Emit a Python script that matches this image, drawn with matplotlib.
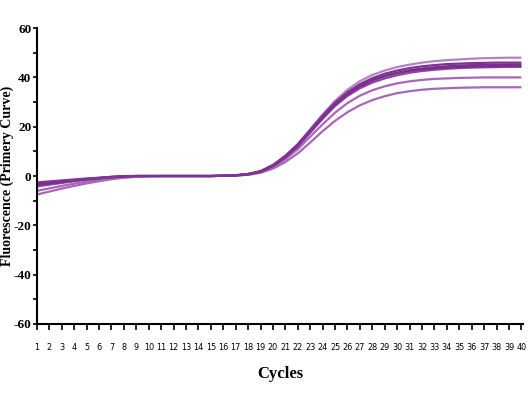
import numpy as np
import matplotlib
matplotlib.use('Agg')
import matplotlib.pyplot as plt
from matplotlib.ticker import MultipleLocator

plt.rcParams['axes.unicode_minus'] = False

cycles = list(range(1, 41))

# fluorescence per cycle, one list per sample
curve_a = [-3.0, -2.6, -2.1, -1.6, -1.2, -0.8, -0.4, -0.1, 0.0, 0.0,
           0.0, 0.0, 0.0, 0.0, 0.0, 0.1, 0.3, 0.8,
           2.0, 4.5, 8.3, 13.0, 19.0, 25.0, 30.5, 35.0, 38.5, 41.0, 42.8, 44.2,
           45.2, 46.0, 46.6, 47.0, 47.3, 47.6, 47.8, 47.9, 48.0, 48.0]
curve_b = [-2.6, -2.2, -1.8, -1.4, -1.0, -0.7, -0.3, 0.0, 0.0, 0.0,
           0.0, 0.0, 0.0, 0.0, 0.0, 0.1, 0.3, 0.8,
           1.9, 4.3, 8.0, 12.6, 18.5, 24.4, 29.8, 34.0, 37.3, 39.7, 41.5, 42.8,
           43.8, 44.5, 45.0, 45.4, 45.6, 45.8, 45.9, 46.0, 46.0, 46.0]
curve_c = [-3.5, -3.0, -2.4, -1.8, -1.3, -0.8, -0.4, -0.1, 0.0, 0.0,
           0.0, 0.0, 0.0, 0.0, 0.0, 0.1, 0.3, 0.7,
           1.8, 4.1, 7.7, 12.2, 18.0, 23.8, 29.0, 33.2, 36.4, 38.8, 40.6, 41.9,
           42.9, 43.6, 44.1, 44.5, 44.8, 45.0, 45.1, 45.2, 45.3, 45.3]
curve_d = [-4.2, -3.5, -2.8, -2.1, -1.5, -1.0, -0.5, -0.2, 0.0, 0.0,
           0.0, 0.0, 0.0, 0.0, 0.0, 0.1, 0.2, 0.7,
           1.7, 4.0, 7.5, 12.0, 17.6, 23.2, 28.4, 32.5, 35.6, 37.9, 39.6, 40.9,
           41.9, 42.6, 43.1, 43.5, 43.8, 44.0, 44.1, 44.2, 44.3, 44.3]
curve_e = [-3.2, -2.8, -2.3, -1.8, -1.3, -0.9, -0.5, -0.2, 0.0, 0.0,
           0.0, 0.0, 0.0, 0.0, 0.0, 0.1, 0.3, 0.8,
           1.9, 4.4, 8.1, 12.8, 18.6, 24.4, 29.6, 33.6, 36.6, 38.9, 40.6, 41.8,
           42.7, 43.3, 43.7, 44.0, 44.2, 44.4, 44.5, 44.6, 44.6, 44.6]
curve_f = [-6.0, -5.0, -4.0, -3.1, -2.3, -1.6, -1.0, -0.5, -0.2, 0.0,
           0.0, 0.0, 0.0, 0.0, 0.0, 0.1, 0.2, 0.6,
           1.5, 3.6, 6.8, 10.9, 16.0, 21.0, 25.7, 29.6, 32.6, 34.8, 36.4, 37.6,
           38.4, 39.0, 39.4, 39.6, 39.8, 39.9, 40.0, 40.0, 40.0, 40.0]
curve_g = [-7.5, -6.3, -5.1, -4.0, -3.0, -2.1, -1.3, -0.7, -0.3, -0.1,
           0.0, 0.0, 0.0, 0.0, 0.0, 0.1, 0.2, 0.5,
           1.3, 3.0, 5.7, 9.2, 13.6, 18.2, 22.4, 25.9, 28.7, 30.8, 32.4, 33.6,
           34.4, 35.0, 35.4, 35.6, 35.8, 35.9, 36.0, 36.0, 36.0, 36.0]

curves = [curve_g, curve_f, curve_a, curve_d, curve_e, curve_c, curve_b]
colors = ['#A767B8', '#A767B8', '#B681C6', '#8E44A2', '#7A2E8E', '#7A2E8E', '#7F3393']

fig = plt.figure(figsize=(5.28, 3.96), dpi=100)
ax = fig.add_axes([0.070, 0.182, 0.921, 0.747])

for ys, c in zip(curves, colors):
    ax.plot(cycles, ys, color=c, lw=1.6, solid_capstyle='butt')

ax.set_xlim(1, 40.15)
ax.set_ylim(-60, 60)
ax.spines['top'].set_visible(False)
ax.spines['right'].set_visible(False)
ax.spines['left'].set_linewidth(1.5)
ax.spines['bottom'].set_linewidth(1.5)

ax.set_xticks(cycles)
ax.set_xticklabels([str(c) for c in cycles], family='DejaVu Sans',
                   fontstretch='condensed', fontsize=6.5)
ax.tick_params(axis='x', direction='out', length=4, width=1.2, pad=10)

ax.yaxis.set_major_locator(MultipleLocator(20))
ax.yaxis.set_minor_locator(MultipleLocator(10))
ax.tick_params(axis='y', which='major', direction='out', length=3, width=1.2, pad=1)
ax.tick_params(axis='y', which='minor', direction='out', length=3, width=1.2)
for lbl in ax.get_yticklabels():
    lbl.set_family('Liberation Serif')
    lbl.set_fontweight('bold')
    lbl.set_fontsize(9.5)

ax.set_xlabel('Cycles', family='Liberation Serif', fontweight='bold', fontsize=12, labelpad=10)
ax.set_ylabel('Fluorescence (Primery Curve)', family='Liberation Serif', fontweight='bold',
              fontsize=10)
ax.yaxis.set_label_coords(-0.047, 0.5)

fig.savefig('out.png', dpi=100)
